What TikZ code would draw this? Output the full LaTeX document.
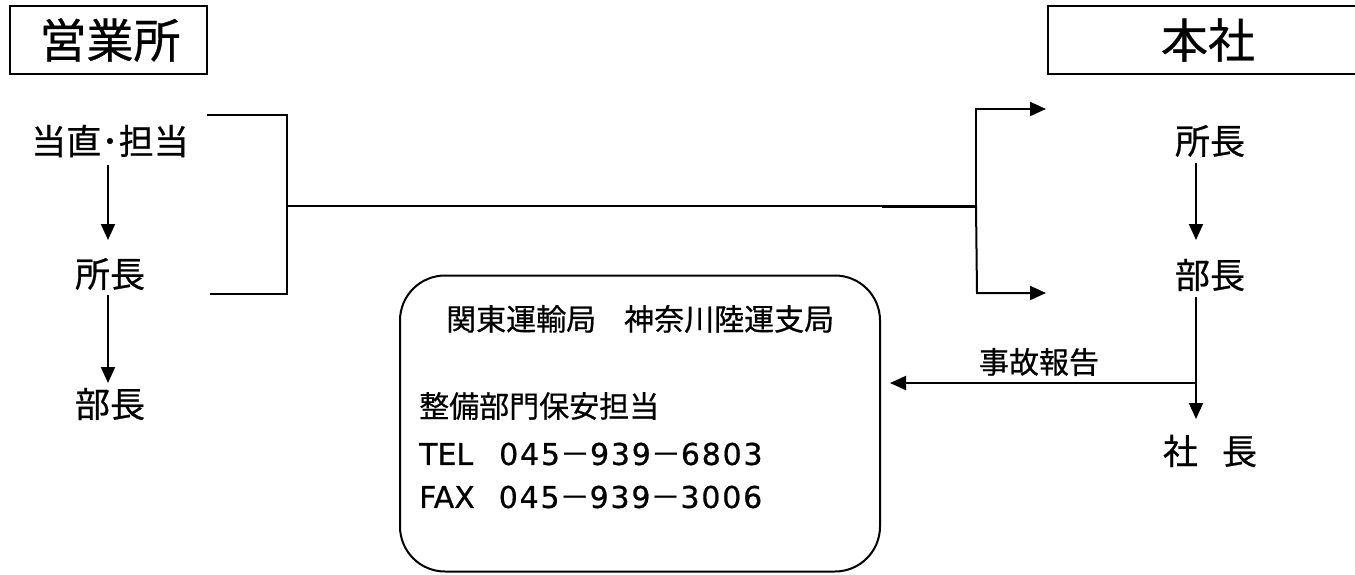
\documentclass[tikz,border=0pt]{standalone}
\usepackage{fontspec}
\setmainfont[FakeBold=0.6]{Noto Sans CJK JP}
\newfontfamily\latinfont[FakeBold=0.6]{DejaVu Sans}
\newfontfamily\digfont[FakeBold=0.6,LetterSpace=6]{DejaVu Sans}
\usetikzlibrary{arrows.meta}
\begin{document}
\begin{tikzpicture}[x=1pt,y=-1pt,
  big/.style={inner sep=0pt, font=\fontsize{47}{52}\selectfont},
  lbl/.style={inner sep=0pt, font=\fontsize{35}{40}\selectfont},
  small/.style={inner sep=0pt, font=\fontsize{30}{34}\selectfont},
  ln/.style={line width=2pt},
  arr/.style={line width=2pt, -{Triangle[length=16pt,width=14pt]}},
  frame/.style={draw, line width=2.6pt}]
\useasboundingbox (0,0) rectangle (1355,574);
% header boxes
\draw[frame] (10,6) rectangle (207,74);
\node[big] (eig) at (110,40) {営業所};
\draw[frame] (1355,6) -- (1048,6) -- (1048,74) -- (1355,74);
\node[big] (hon) at (1208,40) {本社};
% left column
\node[lbl] (l1) at (110,141) {当直･担当};
\node[lbl] (l2) at (110,274) {所長};
\node[lbl] (l3) at (110,404) {部長};
\coordinate (l1b) at (108,165);
\coordinate (l2t) at (108,240);
\coordinate (l2b) at (108,295);
\coordinate (l3t) at (108,383);
\draw[arr] (l1b) -- (l2t);
\draw[arr] (l2b) -- (l3t);
% bracket and main line
\coordinate (bt) at (207,115);
\coordinate (bb) at (210,294);
\coordinate (bm) at (287,206);
\coordinate (jn) at (976,206);
\draw[ln] (bt) -- (287,115) -- (287,294) -- (bb);
\draw[ln] (bm) -- (jn);
\draw[line width=3pt] (882,206) -- (jn);
\coordinate (ft) at (1046,109);
\coordinate (fb) at (1046,293);
\draw[arr] (jn) -- (976,109) -- (ft);
\draw[arr] (jn) -- (977,293) -- (fb);
% right column
\node[lbl] (r1) at (1210,141) {所長};
\node[lbl] (r2) at (1210,275) {部長};
\node[lbl] (r3) at (1210,451) {社\hspace{24pt}長};
\coordinate (r1b) at (1196,163);
\coordinate (r2t) at (1196,240);
\coordinate (r2b) at (1196,297);
\coordinate (r3t) at (1196,419);
\coordinate (ev) at (1196,383);
\draw[arr] (r1b) -- (r2t);
\draw[arr] (r2b) -- (r3t);
% rounded box
\node[draw, line width=2pt, rounded corners=45pt, minimum width=480pt,
      minimum height=296pt, inner sep=0pt] (kt) at (640,423.5) {};
\node[small, anchor=west] (t1) at (446,319) {関東運輸局\hspace{28pt}神奈川陸運支局};
\node[small, anchor=west] (t2) at (419,406) {整備部門保安担当};
\node[small, anchor=west] (t3) at (419,454) {{\latinfont TEL}\hspace{26pt}{\digfont 045}－{\digfont 939}－{\digfont 6803}};
\node[small, anchor=west] (t4) at (419,497) {{\latinfont FAX}\hspace{24pt}{\digfont 045}－{\digfont 939}－{\digfont 3006}};
% accident report
\coordinate (kte) at (890,383);
\draw[arr] (ev) -- (kte);
\node[small] (jk) at (1039,362) {事故報告};
\end{tikzpicture}
\end{document}
